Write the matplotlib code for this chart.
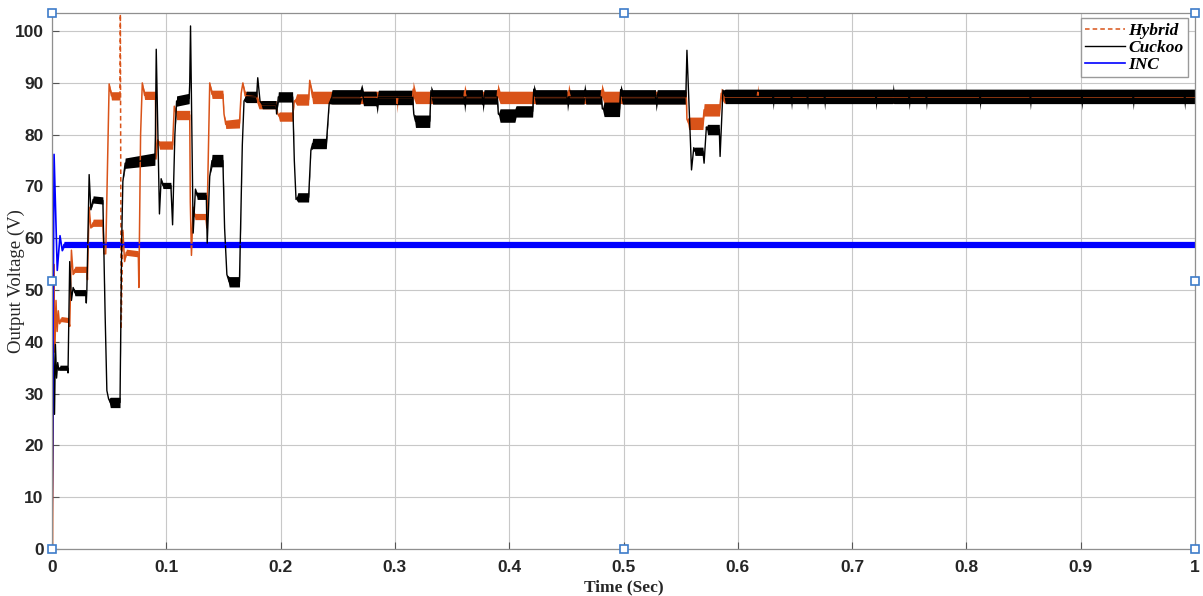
import numpy as np
import matplotlib
matplotlib.use("Agg")
import matplotlib.pyplot as plt

# ---- data (time in s, voltage in V, half ripple width in V) ----
hyb_t = [0.0005, 0.0015, 0.0025, 0.0035, 0.0045, 0.0055, 0.0065, 0.008, 0.0145, 0.0155,
         0.017, 0.0185, 0.02, 0.0305, 0.031, 0.0325, 0.034, 0.036, 0.0445, 0.0455,
         0.047, 0.05, 0.052, 0.0595, 0.0598, 0.0605, 0.062, 0.0635, 0.065, 0.0755,
         0.076, 0.0775, 0.079, 0.081, 0.0905, 0.091, 0.0925, 0.094, 0.1055, 0.107,
         0.109, 0.1205, 0.121, 0.122, 0.1235, 0.125, 0.1345, 0.1355, 0.138, 0.14,
         0.1495, 0.1505, 0.152, 0.164, 0.1655, 0.167, 0.169, 0.179, 0.181, 0.196,
         0.1975, 0.199, 0.2105, 0.212, 0.214, 0.2245, 0.2255, 0.228, 0.3015, 0.302,
         0.3025, 0.3155, 0.316, 0.318, 0.3605, 0.361, 0.3625, 0.3895, 0.39, 0.392,
         0.4515, 0.452, 0.4535, 0.4805, 0.481, 0.483, 0.555, 0.5555, 0.557, 0.5695,
         0.5705, 0.584, 0.5855, 0.588, 0.617, 0.6175, 0.618, 1.0]
hyb_v = [0, 55, 38, 48, 42, 46, 43.5, 44.4, 44.2, 43,
         57.7, 53, 54, 54, 52, 66, 62, 63, 63, 57,
         57, 89.8, 87.5, 87.5, 104, 42.5, 61.5, 55.5, 57.3, 57,
         50.5, 80, 90, 87.6, 87.6, 75.3, 79, 78, 78, 85.5,
         83.8, 83.8, 67, 56.7, 66, 64.2, 64.2, 62, 90, 87.8,
         87.8, 84, 82, 82.2, 88, 90, 87.5, 87.3, 85.8, 85.8,
         84, 83.5, 83.5, 86.5, 86.8, 86.8, 90.5, 87.2, 87.2, 86.0,
         87.2, 87.2, 88.8, 87.2, 87.2, 88.4, 87.2, 87.2, 88.6, 87.2,
         87.2, 88.5, 87.2, 87.2, 88.6, 87.2, 87.2, 83, 82.2, 82.2,
         84.8, 84.8, 88, 87.3, 87.3, 88.2, 87.3, 87.3]
hyb_w = [0, 0, 0, 0, 0, 0, 0, 0.5, 0.5, 0,
         0, 0, 0.6, 0.6, 0, 0, 0, 0.7, 0.7, 0,
         0, 0, 0.8, 0.8, 0, 0, 0, 0, 0.6, 0.6,
         0, 0, 0, 0.8, 0.8, 0, 0, 0.8, 0.8, 0,
         0.9, 0.9, 0, 0, 0, 0.6, 0.6, 0, 0, 0.8,
         0.8, 0, 0.8, 0.9, 0, 0, 0.9, 0.9, 0.8, 0.8,
         0, 0.9, 0.9, 0, 1.1, 1.1, 0, 1.2, 1.2, 1.8,
         1.2, 1.2, 1.5, 1.2, 1.2, 1.3, 1.2, 1.2, 1.3, 1.2,
         1.2, 1.3, 1.2, 1.2, 1.3, 1.2, 1.2, 0, 1.2, 1.2,
         1.2, 1.2, 1.0, 1.2, 1.2, 1.5, 1.2, 1.2]

cuc_t = [0.0, 0.0012, 0.0022, 0.003, 0.004, 0.005, 0.006, 0.007, 0.0135, 0.014,
         0.0155, 0.017, 0.0185, 0.02, 0.0295, 0.030, 0.0305, 0.0325, 0.034, 0.036,
         0.0445, 0.0465, 0.048, 0.0495, 0.051, 0.0595, 0.061, 0.062, 0.064, 0.09,
         0.0905, 0.0912, 0.094, 0.0955, 0.097, 0.104, 0.1055, 0.1075, 0.109, 0.12,
         0.1205, 0.1212, 0.1235, 0.1255, 0.127, 0.135, 0.1358, 0.138, 0.14, 0.1495,
         0.151, 0.153, 0.155, 0.164, 0.1665, 0.168, 0.17, 0.179, 0.18, 0.182,
         0.184, 0.196, 0.1965, 0.198, 0.2105, 0.212, 0.2135, 0.215, 0.2245, 0.2265,
         0.228, 0.24, 0.2425, 0.245, 0.2695, 0.271, 0.2725, 0.2835, 0.2845, 0.2855,
         0.3155, 0.3165, 0.318, 0.3305, 0.3315, 0.333, 0.3605, 0.361, 0.362, 0.3765,
         0.377, 0.378, 0.3895, 0.3905, 0.392, 0.405, 0.406, 0.4205, 0.4215, 0.423,
         0.4505, 0.451, 0.452, 0.4655, 0.466, 0.467, 0.4805, 0.4815, 0.483, 0.4965,
         0.4975, 0.499, 0.528, 0.5285, 0.5295, 0.5545, 0.5555, 0.5595, 0.5615, 0.5625,
         0.5695, 0.5705, 0.5725, 0.5735, 0.5838, 0.5845, 0.587, 0.589, 0.6305, 0.631,
         0.6315, 0.6465, 0.647, 0.6475, 0.6605, 0.661, 0.6615, 0.6755, 0.676, 0.6765,
         0.7205, 0.721, 0.7215, 0.7355, 0.736, 0.7365, 0.7495, 0.75, 0.7505, 0.7645,
         0.765, 0.7655, 0.8115, 0.812, 0.8125, 0.8555, 0.856, 0.8565, 0.9005, 0.901,
         0.9015, 0.9455, 0.946, 0.9465, 0.9905, 0.991, 0.9915, 1.0]
cuc_v = [0, 40, 26, 39.5, 33, 36, 34.5, 35, 35, 34,
         55.5, 48, 50.5, 49.5, 49.5, 47.5, 50, 72.3, 65.5, 67.5,
         67.3, 45, 30.6, 29, 28.3, 28.3, 60, 71, 74.5, 75.3,
         80, 96.5, 64.7, 71.5, 70.2, 70.2, 62.6, 80, 86.5, 87,
         90, 101, 61, 69.5, 68.2, 68.2, 59, 72, 75, 75,
         62, 53, 51.6, 51.6, 78, 86.5, 87.3, 87.3, 91, 86.5,
         85.8, 85.8, 84, 87.3, 87.3, 75, 67.5, 67.9, 67.9, 77,
         78.3, 78.3, 86, 87.3, 87.3, 88.5, 87.0, 87.0, 85.5, 87.2,
         87.2, 84, 82.6, 82.6, 88.5, 87.3, 87.3, 85.8, 87.3, 87.3,
         85.8, 87.3, 87.3, 84, 83.7, 83.7, 84.5, 84.5, 88.8, 87.3,
         87.3, 86, 87.3, 87.3, 88.6, 87.3, 87.3, 85, 84.9, 84.9,
         88.7, 87.3, 87.3, 86, 87.3, 87.3, 96.3, 73.2, 77.5, 76.8,
         76.8, 74.5, 81.5, 81, 81, 75.8, 88.6, 87.4, 87.4, 86.8,
         87.4, 87.4, 86.8, 87.4, 87.4, 86.8, 87.4, 87.4, 86.8, 87.4,
         87.4, 86.8, 87.4, 87.4, 88.0, 87.4, 87.4, 86.8, 87.4, 87.4,
         86.8, 87.4, 87.4, 86.8, 87.4, 87.4, 86.8, 87.4, 87.4, 86.8,
         87.4, 87.4, 86.8, 87.4, 87.4, 86.8, 87.4, 87.4]
cuc_w = [0, 0, 0, 0, 0, 0, 0, 0.5, 0.5, 0,
         0, 0, 0, 0.6, 0.6, 0, 0, 0, 0, 0.7,
         0.7, 0, 0, 0, 1.0, 1.0, 0, 0, 1.0, 1.2,
         0, 0, 0, 0, 0.6, 0.6, 0, 0, 1.0, 1.0,
         0, 0, 0, 0, 0.7, 0.7, 0, 0, 1.2, 1.2,
         0, 0, 1.0, 1.0, 0, 0, 1.1, 1.1, 0, 0,
         0.8, 0.8, 0, 1.0, 1.0, 0, 0, 0.9, 0.9, 0,
         1.0, 1.0, 0, 1.4, 1.4, 1.3, 1.4, 1.4, 1.5, 1.4,
         1.4, 0, 1.2, 1.2, 1.0, 1.4, 1.4, 1.5, 1.4, 1.4,
         1.5, 1.4, 1.4, 0, 1.3, 1.3, 1.1, 1.1, 1.0, 1.4,
         1.4, 1.5, 1.4, 1.4, 1.3, 1.4, 1.4, 0, 1.4, 1.4,
         1.0, 1.4, 1.4, 1.5, 1.4, 1.4, 0, 0, 0, 0.8,
         0.8, 0, 0, 1.0, 1.0, 0, 0, 1.4, 1.4, 2.0,
         1.4, 1.4, 2.0, 1.4, 1.4, 2.0, 1.4, 1.4, 2.0, 1.4,
         1.4, 2.0, 1.4, 1.4, 1.9, 1.4, 1.4, 2.0, 1.4, 1.4,
         2.0, 1.4, 1.4, 2.0, 1.4, 1.4, 2.0, 1.4, 1.4, 2.0,
         1.4, 1.4, 2.0, 1.4, 1.4, 2.0, 1.4, 1.4]

inc_t = [0.0, 0.0018, 0.0046, 0.007, 0.009, 0.0105, 1.0]
inc_v = [0, 76.2, 53.8, 60.5, 57.6, 58.8, 58.8]
inc_w = [0, 0, 0, 0, 0, 0.6, 0.6]

x_ticks = np.arange(0, 1.01, 0.1)
x_labels = ["0", "0.1", "0.2", "0.3", "0.4", "0.5", "0.6", "0.7", "0.8", "0.9", "1"]
y_ticks = np.arange(0, 101, 10)

ORANGE = "#D95319"
BLACK = "#000000"
BLUE = "#0000FF"


def draw_band(ax, t, v, w, color):
    t = np.asarray(t)
    v = np.asarray(v, dtype=float)
    w = np.asarray(w, dtype=float)
    ax.fill_between(t, v - w, v + w, color=color, linewidth=0)


fig = plt.figure(figsize=(12.03, 5.96), dpi=100)
ax = fig.add_axes([52 / 1203, 47 / 596, 1143 / 1203, 536 / 596])

# Hybrid: ripple band + trace, the long overshoot at ~0.06 s shows dashed
draw_band(ax, hyb_t, hyb_v, hyb_w, ORANGE)
i0 = hyb_t.index(0.0595)
i1 = hyb_t.index(0.062)
ax.plot(hyb_t[:i0 + 1], hyb_v[:i0 + 1], color=ORANGE, lw=1.1)
ax.plot(hyb_t[i0:i1 + 1], hyb_v[i0:i1 + 1], color=ORANGE, lw=1.1, ls="--",
        dashes=(3, 2), label="Hybrid")
ax.plot(hyb_t[i1:], hyb_v[i1:], color=ORANGE, lw=1.1)

# Cuckoo
draw_band(ax, cuc_t, cuc_v, cuc_w, BLACK)
ax.plot(cuc_t, cuc_v, color=BLACK, lw=1.0, label="Cuckoo")

# INC
draw_band(ax, inc_t, inc_v, inc_w, BLUE)
ax.plot(inc_t, inc_v, color=BLUE, lw=1.2, label="INC")

ax.set_xlim(0, 1)
ax.set_ylim(0, 103.5)
ax.set_xticks(x_ticks)
ax.set_xticklabels(x_labels)
ax.set_yticks(y_ticks)
ax.grid(True, color="#c8c8c8", lw=0.8)
ax.set_axisbelow(True)
for s in ax.spines.values():
    s.set_color("#8f8f8f")
    s.set_linewidth(0.9)
ax.tick_params(direction="in", length=5, width=0.8, color="#555555",
               top=False, right=False)
ax.tick_params(axis="x", pad=8)
ax.tick_params(axis="y", pad=6)
for lab in ax.get_xticklabels() + ax.get_yticklabels():
    lab.set_fontfamily("Liberation Sans")
    lab.set_fontweight("bold")
    lab.set_fontsize(12.5)
    lab.set_color("#262626")

ax.set_ylabel("Output Voltage (V)", family="Liberation Serif", fontsize=13.5,
              color="#262626")
ax.yaxis.set_label_coords(-0.024, 0.5)
ax.set_xlabel("Time (Sec)", family="Liberation Serif", fontweight="bold",
              fontsize=12.5, color="#262626", va="top")
ax.xaxis.set_label_coords(0.5, -0.056)

leg = ax.legend(loc="upper right", bbox_to_anchor=(0.994, 0.99), borderaxespad=0,
                fancybox=False, framealpha=1, edgecolor="#9a9a9a",
                handlelength=2.3, handletextpad=0.2, labelspacing=0.05,
                borderpad=0.25,
                prop={"family": "Liberation Serif", "style": "italic",
                      "weight": "bold", "size": 12.5})
leg.get_frame().set_linewidth(1.0)

# figure selection handles (editor markers) at corners and mid-edges
hx = [0, 0.5, 1, 0, 0.5, 1, 0, 1]
hy = [0, 0, 0, 1, 1, 1, 0.5, 0.5]
ax.plot(hx, hy, ls="none", marker="s", ms=5.5, mfc="white", mec="#3d7cc9",
        mew=1.2, transform=ax.transAxes, clip_on=False, zorder=10)

fig.savefig("out.png", dpi=100)
